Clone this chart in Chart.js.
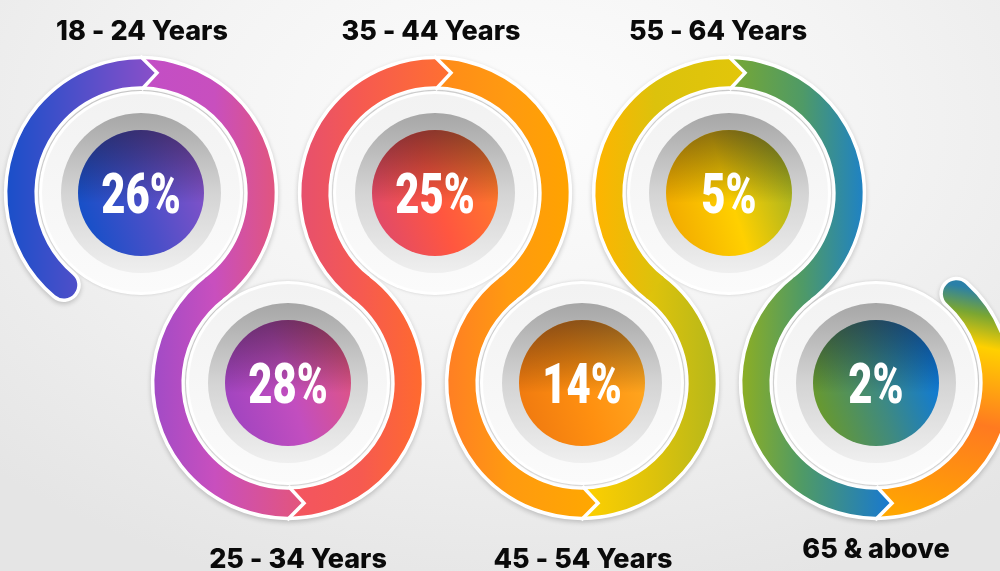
<!DOCTYPE html>
<html lang="en">
<head>
<meta charset="utf-8">
<title>Age groups</title>
<script src="https://cdn.jsdelivr.net/npm/chart.js@4.4.1/dist/chart.umd.min.js"></script>
<style>
  html, body { margin: 0; padding: 0; }
  body {
    width: 1000px; height: 571px; overflow: hidden;
    background: radial-gradient(ellipse 75% 85% at 52% 22%, #fdfdfd 0%, #f4f4f4 45%, #e5e5e5 100%);
  }
  canvas { display: block; }
</style>
</head>
<body>
<canvas id="grafica" width="1000" height="571"></canvas>
<script>
// Datos de la grafica
const grupos = ["18 - 24 Years", "25 - 34 Years", "35 - 44 Years", "45 - 54 Years", "55 - 64 Years", "65 & above"];
const porcentajes = [26, 28, 25, 14, 5, 2];

// Colores de la cinta: [[lado izquierdo, antes del chevron], [despues del chevron, lado derecho]]
const coloresCinta = [
    [['#1a4fc9', '#8b4fc9'], ['#c24ec6', '#e1557f']],
    [['#a24bc6', '#e4557a'], ['#f35462', '#ff6a2e']],
    [['#e6506e', '#ff7030'], ['#ff8a1a', '#ffa300']],
    [['#ff7f24', '#ffa800'], ['#ffd000', '#b6b81a']],
    [['#ffb400', '#e2c60a'], ['#78a832', '#1f82c4']],
    [['#8cae24', '#1778d2'], null]
];
// Color de la cinta donde se unen dos circulos
const coloresUnion = ['#c84fbe', '#f65a50', '#ff9a10', '#dcc20c', '#4f9a66'];
// Colores del circulo central (izquierda, centro, derecha)
const coloresCentro = [
    ['#1450c8', '#4a4fc8', '#8552c8'],
    ['#a044c0', '#c24ebf', '#e05482'],
    ['#e04a6a', '#ff5640', '#ff7a2a'],
    ['#f07a10', '#ff9010', '#ffa820'],
    ['#f2aa00', '#ffd000', '#a4b222'],
    ['#6a9a2a', '#3f8a80', '#0a78e0']
];

const GRADO = Math.PI / 180;
const RADIO_CENTRO = 63;
const ANCHO_CINTA = 27;

function geometria(chart) {
    const puntos = chart.getDatasetMeta(0).data.map(p => ({ x: p.x, y: p.y }));
    const R = Math.hypot(puntos[1].x - puntos[0].x, puntos[1].y - puntos[0].y) / 2;
    const ang = (i, j) => Math.atan2(puntos[j].y - puntos[i].y, puntos[j].x - puntos[i].x);
    const n = puntos.length;
    const tramos = puntos.map((p, i) => {
        const abajo = i % 2 === 1;
        let ini, fin, chev;
        if (!abajo) {
            ini = i > 0 ? ang(i, i - 1) : 130 * GRADO;
            fin = i < n - 1 ? ang(i, i + 1) : 48 * GRADO;
            while (fin <= ini) fin += 2 * Math.PI;
            chev = 270 * GRADO;
        } else {
            ini = ang(i, i - 1);
            if (ini < 0) ini += 2 * Math.PI;
            fin = i < n - 1 ? ang(i, i + 1) : -48 * GRADO;
            while (fin >= ini) fin -= 2 * Math.PI;
            chev = 90 * GRADO;
        }
        return { x: p.x, y: p.y, abajo, ini, fin, chev };
    });
    return { tramos, R };
}

function chevron(t, R) {
    const s = t.abajo ? 1 : -1;
    const yc = t.y + s * R;
    const T = { x: t.x + 16, y: yc };
    const ext = (px, py) => ({ x: T.x + (px - T.x) * 1.2, y: T.y + (py - T.y) * 1.2 });
    return { O: ext(t.x + 2, yc + s * 14), T, I: ext(t.x + 3, yc - s * 14) };
}

// lado = 1 quita la zona a la derecha del chevron, -1 la de la izquierda
function recortar(ctx, ch, lado, W, H) {
    ctx.beginPath();
    ctx.rect(0, 0, W, H);
    ctx.moveTo(ch.O.x, ch.O.y);
    ctx.lineTo(ch.T.x, ch.T.y);
    ctx.lineTo(ch.I.x, ch.I.y);
    ctx.lineTo(ch.I.x + 70 * lado, ch.I.y);
    ctx.lineTo(ch.O.x + 70 * lado, ch.O.y);
    ctx.closePath();
    ctx.clip('evenodd');
}

function trazo(ctx, t, R, a0, a1, estilo, tapa) {
    ctx.beginPath();
    ctx.arc(t.x, t.y, R, a0, a1, t.abajo);
    ctx.strokeStyle = estilo;
    ctx.lineWidth = ANCHO_CINTA;
    ctx.lineCap = tapa ? 'round' : 'butt';
    ctx.stroke();
}

// degradado horizontal con un color fijo en el punto de union
function degradado(ctx, x0, x1, c0, c1, xu, cu) {
    const g = ctx.createLinearGradient(x0, 0, x1, 0);
    g.addColorStop(0, c0);
    if (cu) g.addColorStop(Math.min(0.98, Math.max(0.02, (xu - x0) / (x1 - x0))), cu);
    g.addColorStop(1, c1);
    return g;
}

const infografia = {
    id: 'infografia',
    beforeDatasetsDraw(chart) {
        const ctx = chart.ctx;
        const W = chart.width, H = chart.height;
        const { tramos, R } = geometria(chart);
        const n = tramos.length;

        // contorno blanco de la cinta
        ctx.save();
        ctx.beginPath();
        tramos.forEach(t => ctx.arc(t.x, t.y, R, t.ini, t.fin, t.abajo));
        ctx.lineWidth = ANCHO_CINTA + 7;
        ctx.lineCap = 'round';
        ctx.lineJoin = 'round';
        ctx.strokeStyle = '#ffffff';
        ctx.shadowColor = 'rgba(0,0,0,0.2)';
        ctx.shadowBlur = 5;
        ctx.shadowOffsetY = 2;
        ctx.stroke();
        ctx.restore();

        // discos claros y anillo gris
        tramos.forEach(t => {
            ctx.save();
            ctx.beginPath();
            ctx.arc(t.x, t.y, 102, 0, 2 * Math.PI);
            ctx.fillStyle = '#ffffff';
            ctx.shadowColor = 'rgba(0,0,0,0.16)';
            ctx.shadowBlur = 3;
            ctx.fill();
            ctx.restore();

            ctx.beginPath();
            ctx.arc(t.x, t.y, 99, 0, 2 * Math.PI);
            const gd = ctx.createLinearGradient(0, t.y - 99, 0, t.y + 99);
            gd.addColorStop(0, '#f2f2f2');
            gd.addColorStop(1, '#fbfbfb');
            ctx.fillStyle = gd;
            ctx.fill();

            ctx.beginPath();
            ctx.arc(t.x, t.y, 80, 0, 2 * Math.PI);
            const ga = ctx.createLinearGradient(0, t.y - 80, 0, t.y + 80);
            ga.addColorStop(0, '#a6a6a6');
            ga.addColorStop(0.5, '#d4d4d4');
            ga.addColorStop(1, '#efefef');
            ctx.fillStyle = ga;
            ctx.fill();
        });

        // mitades de color de la cinta
        tramos.forEach((t, i) => {
            const ch = chevron(t, R);
            const s = t.abajo ? -1 : 1;
            const [a, b] = coloresCinta[i][0];
            const xEntrada = t.x + R * Math.cos(t.ini);
            const xSalida = t.x + R * Math.cos(t.fin);

            ctx.save();
            recortar(ctx, ch, 1, W, H);
            const g1 = degradado(ctx, t.x - R - 14, t.x + 16, a, b, xEntrada, i > 0 ? coloresUnion[i - 1] : null);
            trazo(ctx, t, R, t.ini, t.chev + s * 10 * GRADO, g1, i === 0);
            ctx.restore();

            ctx.save();
            recortar(ctx, ch, -1, W, H);
            let g2;
            if (i === n - 1) {
                g2 = ctx.createLinearGradient(t.x + 20, t.y + R + 14, t.x + 70, t.y - R + 20);
                g2.addColorStop(0, '#ffa800');
                g2.addColorStop(0.45, '#ff7a20');
                g2.addColorStop(0.77, '#ffd000');
                g2.addColorStop(0.9, '#7aa632');
                g2.addColorStop(1, '#2a80a8');
            } else {
                const [c, d] = coloresCinta[i][1];
                g2 = degradado(ctx, t.x, t.x + R + 14, c, d, xSalida, coloresUnion[i]);
            }
            const extra = i < n - 1 ? s * 1 * GRADO : 0;
            trazo(ctx, t, R, t.chev - s * 8 * GRADO, t.fin + extra, g2, i === n - 1);
            ctx.restore();

            ctx.beginPath();
            ctx.moveTo(ch.O.x, ch.O.y);
            ctx.lineTo(ch.T.x, ch.T.y);
            ctx.lineTo(ch.I.x, ch.I.y);
            ctx.strokeStyle = '#ffffff';
            ctx.lineWidth = 3.5;
            ctx.lineJoin = 'miter';
            ctx.lineCap = 'butt';
            ctx.stroke();
        });
    },
    afterDatasetsDraw(chart, args, opts) {
        const ctx = chart.ctx;
        const { tramos } = geometria(chart);
        tramos.forEach((t, i) => {
            // sombra oscura arriba del circulo central
            ctx.save();
            ctx.beginPath();
            ctx.arc(t.x, t.y, RADIO_CENTRO, 0, 2 * Math.PI);
            ctx.clip();
            const gs = ctx.createLinearGradient(0, t.y - RADIO_CENTRO, 0, t.y + 10);
            gs.addColorStop(0, 'rgba(25,15,30,0.5)');
            gs.addColorStop(1, 'rgba(0,0,0,0)');
            ctx.fillStyle = gs;
            ctx.fillRect(t.x - RADIO_CENTRO, t.y - RADIO_CENTRO, 2 * RADIO_CENTRO, 2 * RADIO_CENTRO);
            ctx.restore();

            // porcentaje
            ctx.save();
            ctx.translate(t.x, t.y);
            ctx.scale(0.76, 1);
            ctx.font = '900 55px Roboto';
            ctx.textAlign = 'center';
            ctx.textBaseline = 'alphabetic';
            ctx.fillStyle = '#ffffff';
            ctx.fillText(porcentajes[i] + '%', 0, 20);
            ctx.restore();

            // etiqueta del grupo
            ctx.save();
            ctx.font = '800 27px Inter, "Noto Sans", sans-serif';
            ctx.textAlign = 'center';
            ctx.textBaseline = 'alphabetic';
            ctx.fillStyle = '#0a0a0a';
            ctx.fillText(grupos[i], t.x + opts.dx[i], t.y + opts.dy[i]);
            ctx.restore();
        });
    }
};

const $grafica = document.getElementById('grafica');
new Chart($grafica, {
    type: 'scatter',
    data: {
        datasets: [{
            data: grupos.map((g, i) => ({ x: i, y: i % 2 === 0 ? 1 : 0 })),
            clip: false,
            pointRadius: RADIO_CENTRO,
            pointHoverRadius: RADIO_CENTRO,
            pointBorderWidth: 0,
            pointBackgroundColor: (c) => {
                const col = coloresCentro[c.dataIndex] || coloresCentro[0];
                if (c.type !== 'data' || !c.parsed) return col[1];
                const ch = c.chart;
                const px = ch.scales.x.getPixelForValue(c.parsed.x);
                const py = ch.scales.y.getPixelForValue(c.parsed.y);
                // antes del layout las escalas aun no tienen pixeles
                if (!Number.isFinite(px) || !Number.isFinite(py)) return col[1];
                const g = ch.ctx.createLinearGradient(px - RADIO_CENTRO, py + 20, px + RADIO_CENTRO, py - 20);
                g.addColorStop(0, col[0]);
                g.addColorStop(0.5, col[1]);
                g.addColorStop(1, col[2]);
                return g;
            }
        }]
    },
    options: {
        responsive: false,
        animation: false,
        events: [],
        layout: { autoPadding: false, padding: 0 },
        plugins: {
            legend: { display: false },
            tooltip: { enabled: false },
            infografia: {
                dx: [1, 10, -4, 1, -11, 0],
                dy: [-153, 185, -153, 185, -153, 175]
            }
        },
        scales: {
            x: { type: 'linear', display: false, min: -0.9592, max: 5.8435 },
            y: { type: 'linear', display: false, min: -0.9895, max: 2.0158 }
        }
    },
    plugins: [infografia]
});
</script>
</body>
</html>
